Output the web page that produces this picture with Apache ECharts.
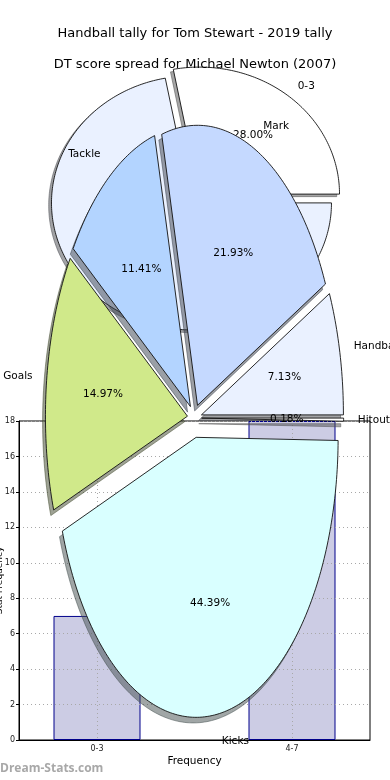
<!DOCTYPE html>
<html><head><meta charset="utf-8">
<script src="https://cdn.jsdelivr.net/npm/echarts@6/dist/echarts.min.js"></script>
<style>html,body{margin:0;padding:0;background:#fff}#c{width:390px;height:780px}</style>
</head><body><div id="c"></div>
<script>
// ---- data ----
const titleMain = 'Handball tally for Tom Stewart - 2019 tally';
const titleSub = 'DT score spread for Michael Newton (2007)';
const statCategories = ['Handball', 'Mark', 'Tackle', 'Goals', 'Kicks', 'Hitout'];
const statShares = [7.13, 21.93, 11.41, 14.97, 44.39, 0.18];
const freqCategories = ['0-3', '4-7'];
const freqCounts = [7, 18];
const freqPositions = [0, 1];
const xAxisTitle = 'Frequency';
const yAxisTitle = 'Stat Frequency';
const watermark = 'Dream-Stats.com';

// ---- layout / style ----
const FONT = 'DejaVu Sans';
const pieBLayout = { cx: 194.5, cy: 418, rx: 142, ry: 280,
  explode: [0.05, 0.05, 0.05, 0.05, 0.07, 0.05],
  colors: ['#eaf1ff', '#c5d9ff', '#b3d4ff', '#d0e98a', '#d9ffff', '#ffffff'] };
const pieALayout = { cx: 195.5, cy: 198.5, rx: 140, ry: 127,
  explode: [0.045, 0.045], colors: ['#ffffff', '#eaf1ff'] };

function shade(hex) {
  const n = parseInt(hex.slice(1), 16);
  const r = Math.round(((n >> 16) & 255) * 0.3), g = Math.round(((n >> 8) & 255) * 0.3), b = Math.round((n & 255) * 0.3);
  return 'rgb(' + r + ',' + g + ',' + b + ')';
}

function ellipsePie(layout, labels, values) {
  const total = values.reduce((a, b) => a + b, 0);
  const starts = [];
  let acc = 0;
  values.forEach(v => { starts.push(acc / total * 360); acc += v; });
  return function (params, api) {
    const i = params.dataIndex;
    const v = api.value(0);
    const a0 = starts[i], a1 = a0 + v / total * 360;
    const am = (a0 + a1) / 2 * Math.PI / 180;
    const e = layout.explode[i];
    const ox = layout.cx + e * layout.rx * Math.cos(am);
    const oy = layout.cy - e * layout.ry * Math.sin(am);
    const pts = [[ox, oy]];
    const n = Math.max(2, Math.ceil(a1 - a0));
    for (let k = 0; k <= n; k++) {
      const t = (a0 + (a1 - a0) * k / n) * Math.PI / 180;
      pts.push([ox + layout.rx * Math.cos(t), oy - layout.ry * Math.sin(t)]);
    }
    const sdx = -0.02 * layout.rx, sdy = 0.02 * layout.ry;
    const spts = pts.map(p => [p[0] + sdx, p[1] + sdy]);
    const col = layout.colors[i];
    const c = Math.cos(am), s = Math.sin(am);
    const lx = ox + 1.1 * layout.rx * c, ly = oy - 1.1 * layout.ry * s;
    const px = ox + 0.6 * layout.rx * c, py = oy - 0.6 * layout.ry * s;
    return { type: 'group', children: [
      { type: 'polygon', shape: { points: spts }, style: { fill: shade(col), stroke: shade(col), lineWidth: 1, opacity: 0.5 }, z2: 0 },
      { type: 'polygon', shape: { points: pts }, style: { fill: col, stroke: '#111', lineWidth: 0.9 }, z2: 10 },
      { type: 'text', x: lx, y: ly, style: { text: labels[i], fill: '#000', font: '10.5px "' + FONT + '"', align: c >= 0 ? 'left' : 'right', verticalAlign: 'middle' }, z2: 20 },
      { type: 'text', x: px, y: py, style: { text: (v / total * 100).toFixed(2) + '%', fill: '#000', font: '10.5px "' + FONT + '"', align: 'center', verticalAlign: 'middle' }, z2: 20 }
    ] };
  };
}

const chart = echarts.init(document.getElementById('c'), null, { renderer: 'canvas' });
chart.setOption({
  backgroundColor: '#fff',
  animation: false,
  textStyle: { fontFamily: FONT },
  title: [
    { text: titleMain, left: 'center', top: 22, textStyle: { fontFamily: FONT, fontSize: 13, fontWeight: 'normal', color: '#000' } },
    { text: titleSub, left: 'center', top: 53, textStyle: { fontFamily: FONT, fontSize: 13, fontWeight: 'normal', color: '#000' } }
  ],
  grid: { left: 19, right: 20, top: 421, bottom: 40, show: true, borderColor: '#000', borderWidth: 1,
    containLabel: false, outerBoundsMode: 'none' },
  xAxis: {
    type: 'value', min: -0.4, max: 1.4, z: 3,
    name: xAxisTitle, nameLocation: 'middle', nameGap: 16, nameMoveOverlap: false,
    nameTextStyle: { fontFamily: FONT, fontSize: 10.5, color: '#000' },
    axisLine: { show: true, onZero: false, lineStyle: { color: '#000', width: 1 } },
    axisTick: { show: false, customValues: freqPositions },
    axisLabel: { customValues: freqPositions, formatter: v => freqCategories[Math.round(v)], fontSize: 8, color: '#222', margin: 5 },
    splitLine: { show: true, lineStyle: { color: '#a8a8a8', type: [1, 3], width: 1 } }
  },
  yAxis: {
    type: 'value', min: 0, max: 18, interval: 2, z: 3,
    name: yAxisTitle, nameLocation: 'middle', nameRotate: 90, nameGap: 15, nameMoveOverlap: false,
    nameTextStyle: { fontFamily: FONT, fontSize: 9, color: '#000' },
    axisLine: { show: true, onZero: false, lineStyle: { color: '#000', width: 1 } },
    axisTick: { show: true, length: 3, lineStyle: { color: '#000' } },
    axisLabel: { fontSize: 8, color: '#222', margin: 4 },
    splitLine: { show: true, lineStyle: { color: '#a8a8a8', type: [1, 3], width: 1 } }
  },
  graphic: [
    { type: 'text', left: 0, top: 763, style: { text: watermark, fill: '#a8a8a8', font: 'bold 12px "Open Sans"' } }
  ],
  series: [
    { type: 'custom', name: 'pieA', coordinateSystem: 'none', z: 1, silent: true,
      renderItem: ellipsePie(pieALayout, freqCategories, freqCounts), data: freqCounts },
    { type: 'bar', name: 'freq', z: 2, barWidth: 87,
      data: freqPositions.map((p, i) => [p, freqCounts[i]]),
      itemStyle: { color: '#ccccE4', borderColor: '#00008b', borderWidth: 1 } },
    { type: 'custom', name: 'pieB', coordinateSystem: 'none', z: 5, silent: true,
      renderItem: ellipsePie(pieBLayout, statCategories, statShares), data: statShares }
  ]
});
</script></body></html>
